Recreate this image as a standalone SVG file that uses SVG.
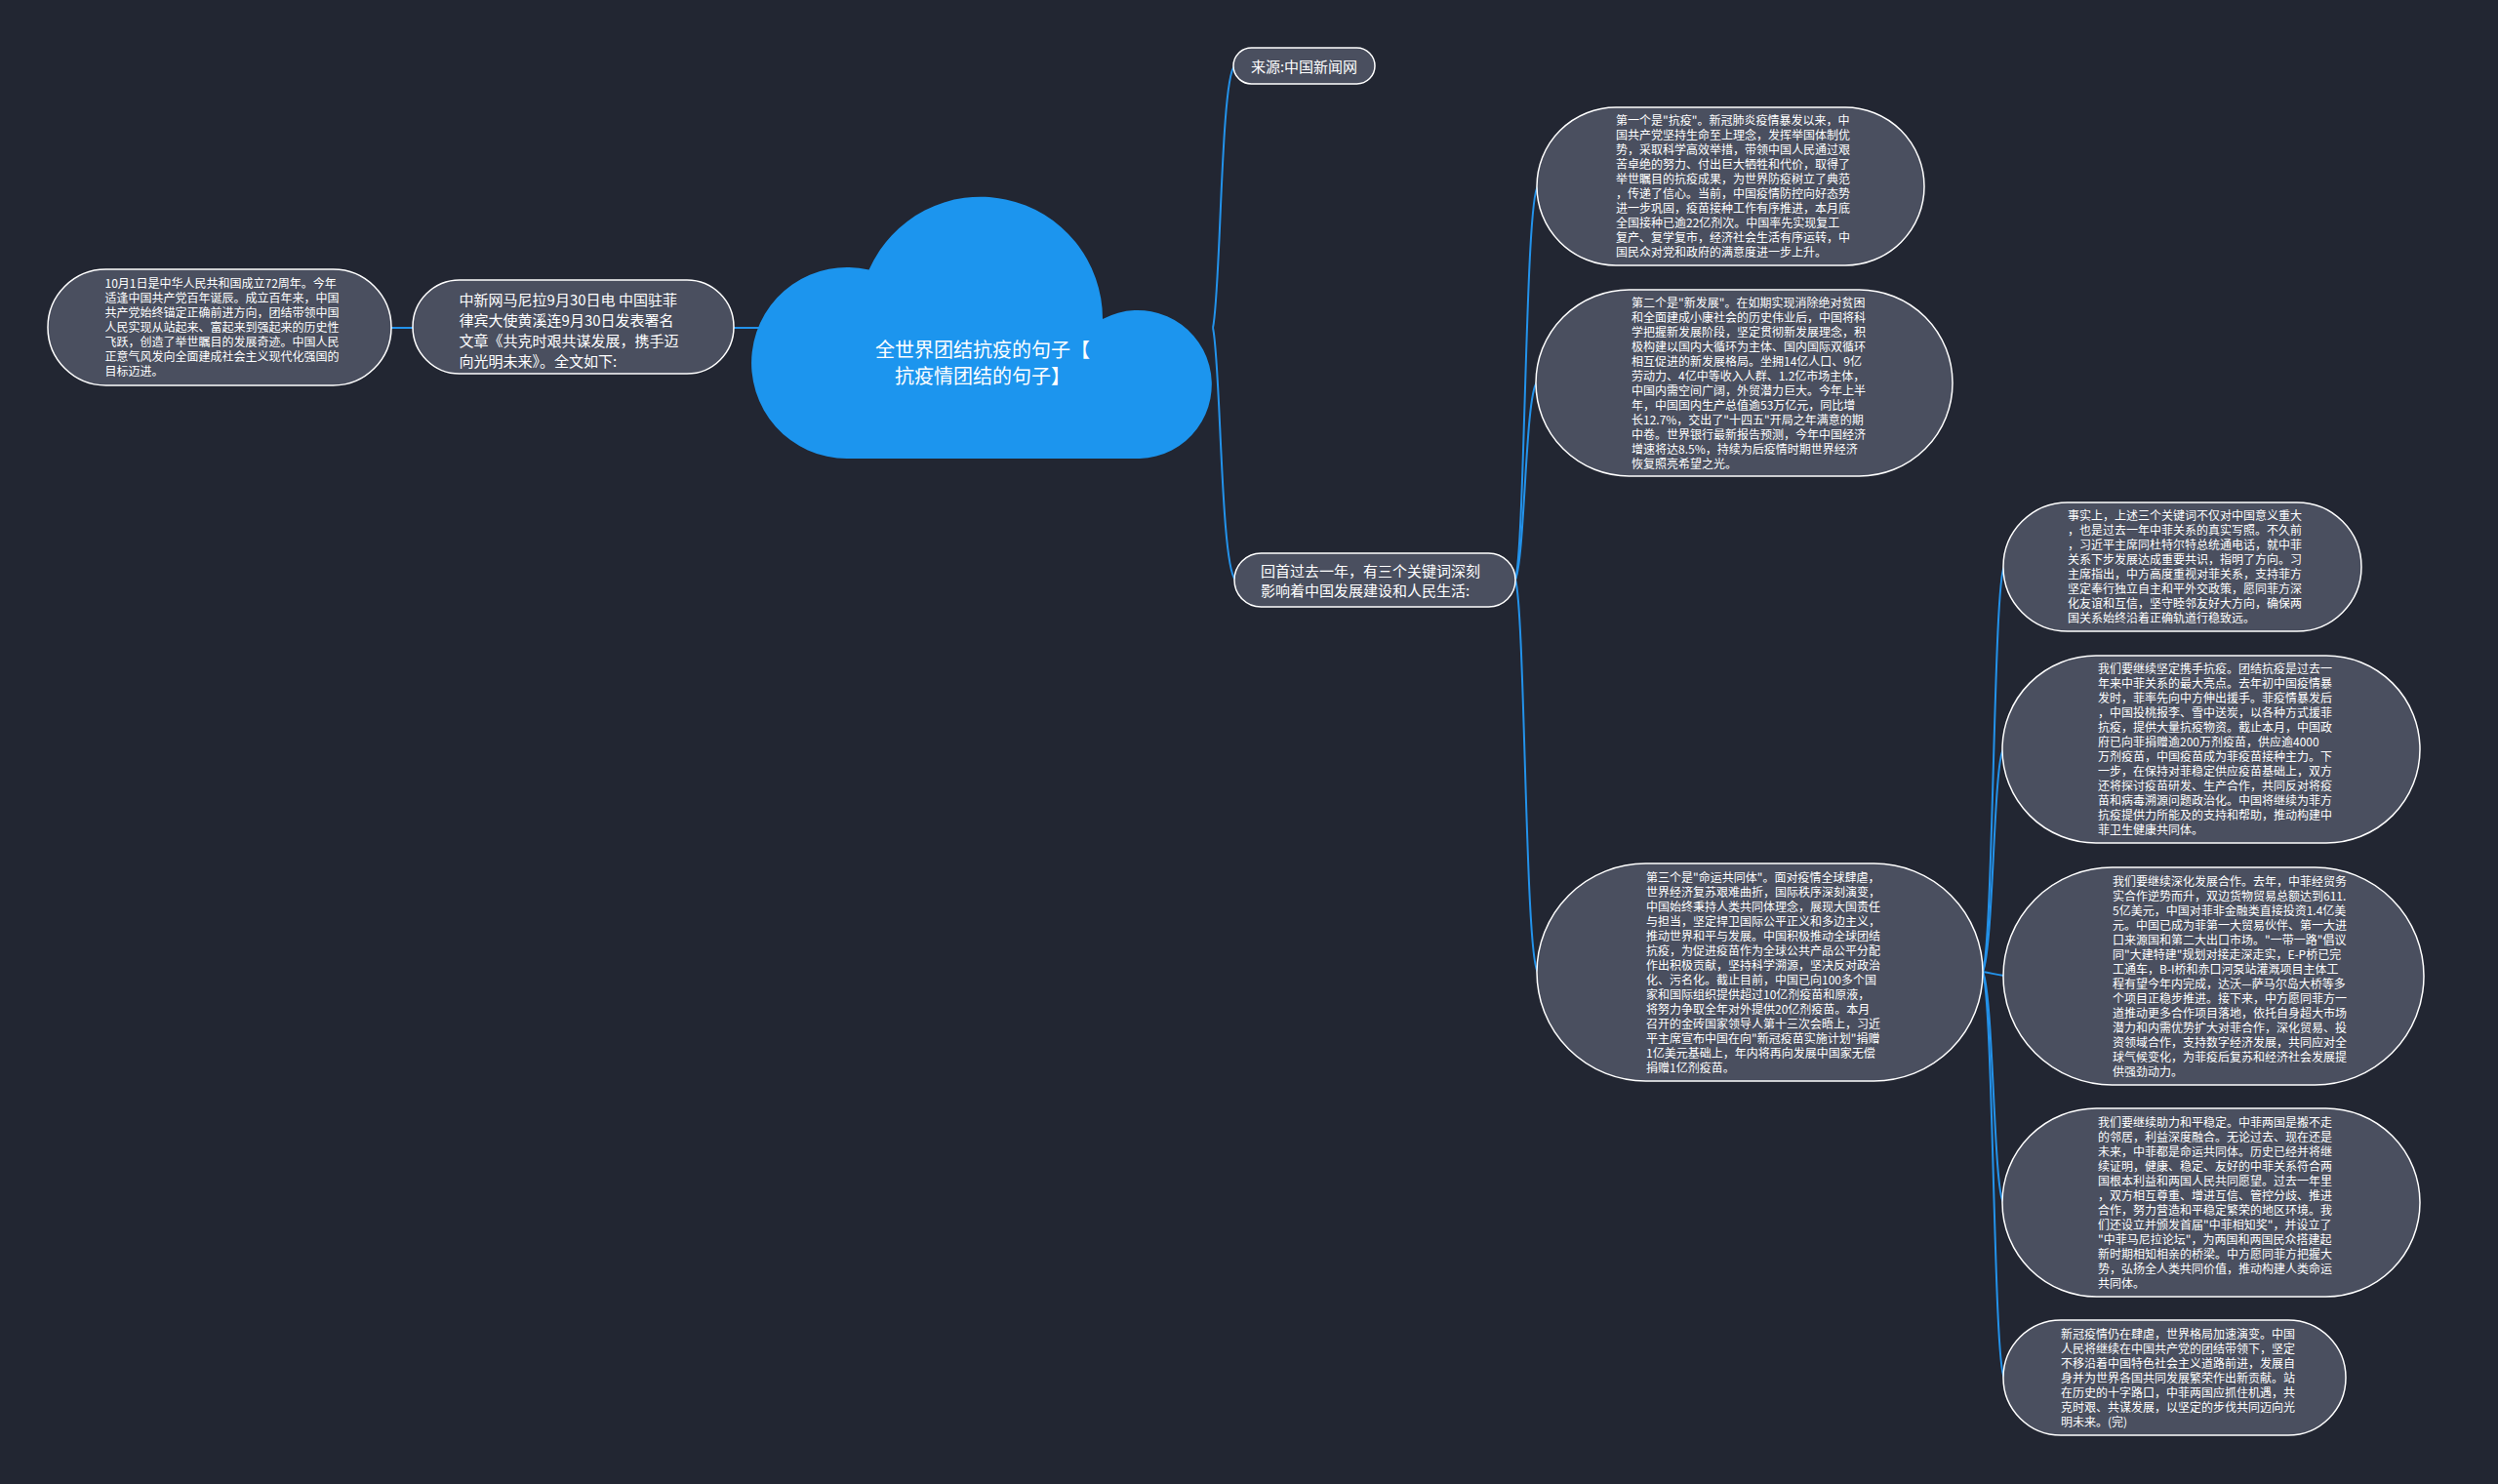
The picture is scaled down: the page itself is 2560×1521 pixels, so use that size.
<svg xmlns="http://www.w3.org/2000/svg" width="2560" height="1521" viewBox="0 0 2560 1521">
<style>
.bg{fill:#222632}
.pill{fill:#4a4f5f;stroke:#ffffff;stroke-width:1.5}
.edge{fill:none;stroke:#2392ea;stroke-width:2}
.t12{font-family:"Noto Sans CJK SC","Noto Sans",sans-serif;font-size:12px;fill:#ffffff}
.t15{font-family:"Noto Sans CJK SC","Noto Sans",sans-serif;font-size:15px;fill:#ffffff}
.t20{font-family:"Noto Sans CJK SC","Noto Sans",sans-serif;font-size:20px;fill:#ffffff;text-anchor:middle}
</style>
<rect class="bg" x="0" y="0" width="2560" height="1521"/>
<g id="connectors">
<path class="edge" d="M401 336 L424 336"/>
<path class="edge" d="M752 336 L790 336"/>
<path class="edge" d="M1243 336 C1251 300 1251 82 1265 68"/>
<path class="edge" d="M1243 336 C1251 372 1251 580 1266 594"/>
<path class="edge" d="M1553 594 C1563 560 1563 205 1576 191"/>
<path class="edge" d="M1553 594 C1563 570 1563 406 1575 392"/>
<path class="edge" d="M1553 594 C1563 628 1563 982 1576 996"/>
<path class="edge" d="M2032 996 C2043 960 2043 595 2054 581"/>
<path class="edge" d="M2032 996 C2043 970 2043 782 2053 768"/>
<path class="edge" d="M2032 996 C2040 997 2045 999 2054 1000"/>
<path class="edge" d="M2032 996 C2043 1022 2043 1218 2053 1232"/>
<path class="edge" d="M2032 996 C2043 1032 2043 1398 2054 1412"/>
</g>
<g id="root">
<path d="M868 470 A98 98 0 1 1 890.5 276.6 A125 125 0 0 1 1130 327 A76 76 0 1 1 1168 470 Z" fill="#1c95ee"/>
<text class="t20" x="1007" y="365.6">全世界团结抗疫的句子【</text>
<text class="t20" x="1007" y="392.6">抗疫情团结的句子】</text>
</g>
<g id="node-intro">
<rect class="pill" x="423" y="287" width="329" height="96" rx="48"/>
<text class="t15" x="470.6" y="312.7"><tspan x="470.6" dy="0">中新网马尼拉9月30日电 中国驻菲</tspan><tspan x="470.6" dy="21">律宾大使黄溪连9月30日发表署名</tspan><tspan x="470.6" dy="21">文章《共克时艰共谋发展，携手迈</tspan><tspan x="470.6" dy="21">向光明未来》。全文如下:</tspan></text>
</g>
<g id="node-anniversary">
<rect class="pill" x="49" y="276" width="352" height="119" rx="59.5"/>
<text class="t12" x="107.5" y="295"><tspan x="107.5" dy="0">10月1日是中华人民共和国成立72周年。今年</tspan><tspan x="107.5" dy="15">适逢中国共产党百年诞辰。成立百年来，中国</tspan><tspan x="107.5" dy="15">共产党始终锚定正确前进方向，团结带领中国</tspan><tspan x="107.5" dy="15">人民实现从站起来、富起来到强起来的历史性</tspan><tspan x="107.5" dy="15">飞跃，创造了举世瞩目的发展奇迹。中国人民</tspan><tspan x="107.5" dy="15">正意气风发向全面建成社会主义现代化强国的</tspan><tspan x="107.5" dy="15">目标迈进。</tspan></text>
</g>
<g id="node-source">
<rect class="pill" x="1264" y="49" width="145" height="37" rx="18.5"/>
<text class="t15" x="1336.5" y="73.5" text-anchor="middle">来源:中国新闻网</text>
</g>
<g id="node-review">
<rect class="pill" x="1265" y="567" width="288" height="55" rx="27.5"/>
<text class="t15" x="1292" y="590.7"><tspan x="1292" dy="0">回首过去一年，有三个关键词深刻</tspan><tspan x="1292" dy="20">影响着中国发展建设和人民生活:</tspan></text>
</g>
<g id="node-first">
<rect class="pill" x="1575" y="110" width="397" height="162" rx="81"/>
<text class="t12" x="1656" y="128"><tspan x="1656" dy="0">第一个是"抗疫"。新冠肺炎疫情暴发以来，中</tspan><tspan x="1656" dy="15">国共产党坚持生命至上理念，发挥举国体制优</tspan><tspan x="1656" dy="15">势，采取科学高效举措，带领中国人民通过艰</tspan><tspan x="1656" dy="15">苦卓绝的努力、付出巨大牺牲和代价，取得了</tspan><tspan x="1656" dy="15">举世瞩目的抗疫成果，为世界防疫树立了典范</tspan><tspan x="1656" dy="15">，传递了信心。当前，中国疫情防控向好态势</tspan><tspan x="1656" dy="15">进一步巩固，疫苗接种工作有序推进，本月底</tspan><tspan x="1656" dy="15">全国接种已逾22亿剂次。中国率先实现复工</tspan><tspan x="1656" dy="15">复产、复学复市，经济社会生活有序运转，中</tspan><tspan x="1656" dy="15">国民众对党和政府的满意度进一步上升。</tspan></text>
</g>
<g id="node-second">
<rect class="pill" x="1574" y="297" width="427" height="191" rx="95.5"/>
<text class="t12" x="1672" y="314.6"><tspan x="1672" dy="0">第二个是"新发展"。在如期实现消除绝对贫困</tspan><tspan x="1672" dy="15">和全面建成小康社会的历史伟业后，中国将科</tspan><tspan x="1672" dy="15">学把握新发展阶段，坚定贯彻新发展理念，积</tspan><tspan x="1672" dy="15">极构建以国内大循环为主体、国内国际双循环</tspan><tspan x="1672" dy="15">相互促进的新发展格局。坐拥14亿人口、9亿</tspan><tspan x="1672" dy="15">劳动力、4亿中等收入人群、1.2亿市场主体，</tspan><tspan x="1672" dy="15">中国内需空间广阔，外贸潜力巨大。今年上半</tspan><tspan x="1672" dy="15">年，中国国内生产总值逾53万亿元，同比增</tspan><tspan x="1672" dy="15">长12.7%，交出了"十四五"开局之年满意的期</tspan><tspan x="1672" dy="15">中卷。世界银行最新报告预测，今年中国经济</tspan><tspan x="1672" dy="15">增速将达8.5%，持续为后疫情时期世界经济</tspan><tspan x="1672" dy="15">恢复照亮希望之光。</tspan></text>
</g>
<g id="node-third">
<rect class="pill" x="1575" y="885" width="457" height="223" rx="111.5"/>
<text class="t12" x="1687" y="903.6"><tspan x="1687" dy="0">第三个是"命运共同体"。面对疫情全球肆虐，</tspan><tspan x="1687" dy="15">世界经济复苏艰难曲折，国际秩序深刻演变，</tspan><tspan x="1687" dy="15">中国始终秉持人类共同体理念，展现大国责任</tspan><tspan x="1687" dy="15">与担当，坚定捍卫国际公平正义和多边主义，</tspan><tspan x="1687" dy="15">推动世界和平与发展。中国积极推动全球团结</tspan><tspan x="1687" dy="15">抗疫，为促进疫苗作为全球公共产品公平分配</tspan><tspan x="1687" dy="15">作出积极贡献，坚持科学溯源，坚决反对政治</tspan><tspan x="1687" dy="15">化、污名化。截止目前，中国已向100多个国</tspan><tspan x="1687" dy="15">家和国际组织提供超过10亿剂疫苗和原液，</tspan><tspan x="1687" dy="15">将努力争取全年对外提供20亿剂疫苗。本月</tspan><tspan x="1687" dy="15">召开的金砖国家领导人第十三次会晤上，习近</tspan><tspan x="1687" dy="15">平主席宣布中国在向"新冠疫苗实施计划"捐赠</tspan><tspan x="1687" dy="15">1亿美元基础上，年内将再向发展中国家无偿</tspan><tspan x="1687" dy="15">捐赠1亿剂疫苗。</tspan></text>
</g>
<g id="node-r1">
<rect class="pill" x="2053" y="515" width="367" height="132" rx="66"/>
<text class="t12" x="2119" y="533"><tspan x="2119" dy="0">事实上，上述三个关键词不仅对中国意义重大</tspan><tspan x="2119" dy="15">，也是过去一年中菲关系的真实写照。不久前</tspan><tspan x="2119" dy="15">，习近平主席同杜特尔特总统通电话，就中菲</tspan><tspan x="2119" dy="15">关系下步发展达成重要共识，指明了方向。习</tspan><tspan x="2119" dy="15">主席指出，中方高度重视对菲关系，支持菲方</tspan><tspan x="2119" dy="15">坚定奉行独立自主和平外交政策，愿同菲方深</tspan><tspan x="2119" dy="15">化友谊和互信，坚守睦邻友好大方向，确保两</tspan><tspan x="2119" dy="15">国关系始终沿着正确轨道行稳致远。</tspan></text>
</g>
<g id="node-r2">
<rect class="pill" x="2052" y="672" width="428" height="192" rx="96"/>
<text class="t12" x="2150" y="690"><tspan x="2150" dy="0">我们要继续坚定携手抗疫。团结抗疫是过去一</tspan><tspan x="2150" dy="15">年来中菲关系的最大亮点。去年初中国疫情暴</tspan><tspan x="2150" dy="15">发时，菲率先向中方伸出援手。菲疫情暴发后</tspan><tspan x="2150" dy="15">，中国投桃报李、雪中送炭，以各种方式援菲</tspan><tspan x="2150" dy="15">抗疫，提供大量抗疫物资。截止本月，中国政</tspan><tspan x="2150" dy="15">府已向菲捐赠逾200万剂疫苗，供应逾4000</tspan><tspan x="2150" dy="15">万剂疫苗，中国疫苗成为菲疫苗接种主力。下</tspan><tspan x="2150" dy="15">一步，在保持对菲稳定供应疫苗基础上，双方</tspan><tspan x="2150" dy="15">还将探讨疫苗研发、生产合作，共同反对将疫</tspan><tspan x="2150" dy="15">苗和病毒溯源问题政治化。中国将继续为菲方</tspan><tspan x="2150" dy="15">抗疫提供力所能及的支持和帮助，推动构建中</tspan><tspan x="2150" dy="15">菲卫生健康共同体。</tspan></text>
</g>
<g id="node-r3">
<rect class="pill" x="2053" y="889" width="431" height="223" rx="111.5"/>
<text class="t12" x="2165" y="907.6"><tspan x="2165" dy="0">我们要继续深化发展合作。去年，中菲经贸务</tspan><tspan x="2165" dy="15">实合作逆势而升，双边货物贸易总额达到611.</tspan><tspan x="2165" dy="15">5亿美元，中国对菲非金融类直接投资1.4亿美</tspan><tspan x="2165" dy="15">元。中国已成为菲第一大贸易伙伴、第一大进</tspan><tspan x="2165" dy="15">口来源国和第二大出口市场。"一带一路"倡议</tspan><tspan x="2165" dy="15">同"大建特建"规划对接走深走实，E-P桥已完</tspan><tspan x="2165" dy="15">工通车，B-I桥和赤口河泵站灌溉项目主体工</tspan><tspan x="2165" dy="15">程有望今年内完成，达沃—萨马尔岛大桥等多</tspan><tspan x="2165" dy="15">个项目正稳步推进。接下来，中方愿同菲方一</tspan><tspan x="2165" dy="15">道推动更多合作项目落地，依托自身超大市场</tspan><tspan x="2165" dy="15">潜力和内需优势扩大对菲合作，深化贸易、投</tspan><tspan x="2165" dy="15">资领域合作，支持数字经济发展，共同应对全</tspan><tspan x="2165" dy="15">球气候变化，为菲疫后复苏和经济社会发展提</tspan><tspan x="2165" dy="15">供强劲动力。</tspan></text>
</g>
<g id="node-r4">
<rect class="pill" x="2052" y="1136" width="428" height="193" rx="96.5"/>
<text class="t12" x="2150" y="1154.6"><tspan x="2150" dy="0">我们要继续助力和平稳定。中菲两国是搬不走</tspan><tspan x="2150" dy="15">的邻居，利益深度融合。无论过去、现在还是</tspan><tspan x="2150" dy="15">未来，中菲都是命运共同体。历史已经并将继</tspan><tspan x="2150" dy="15">续证明，健康、稳定、友好的中菲关系符合两</tspan><tspan x="2150" dy="15">国根本利益和两国人民共同愿望。过去一年里</tspan><tspan x="2150" dy="15">，双方相互尊重、增进互信、管控分歧、推进</tspan><tspan x="2150" dy="15">合作，努力营造和平稳定繁荣的地区环境。我</tspan><tspan x="2150" dy="15">们还设立并颁发首届"中菲相知奖"，并设立了</tspan><tspan x="2150" dy="15">"中菲马尼拉论坛"，为两国和两国民众搭建起</tspan><tspan x="2150" dy="15">新时期相知相亲的桥梁。中方愿同菲方把握大</tspan><tspan x="2150" dy="15">势，弘扬全人类共同价值，推动构建人类命运</tspan><tspan x="2150" dy="15">共同体。</tspan></text>
</g>
<g id="node-r5">
<rect class="pill" x="2053" y="1353" width="351" height="118" rx="59"/>
<text class="t12" x="2112" y="1371.6"><tspan x="2112" dy="0">新冠疫情仍在肆虐，世界格局加速演变。中国</tspan><tspan x="2112" dy="15">人民将继续在中国共产党的团结带领下，坚定</tspan><tspan x="2112" dy="15">不移沿着中国特色社会主义道路前进，发展自</tspan><tspan x="2112" dy="15">身并为世界各国共同发展繁荣作出新贡献。站</tspan><tspan x="2112" dy="15">在历史的十字路口，中菲两国应抓住机遇，共</tspan><tspan x="2112" dy="15">克时艰、共谋发展，以坚定的步伐共同迈向光</tspan><tspan x="2112" dy="15">明未来。(完)</tspan></text>
</g>
</svg>
